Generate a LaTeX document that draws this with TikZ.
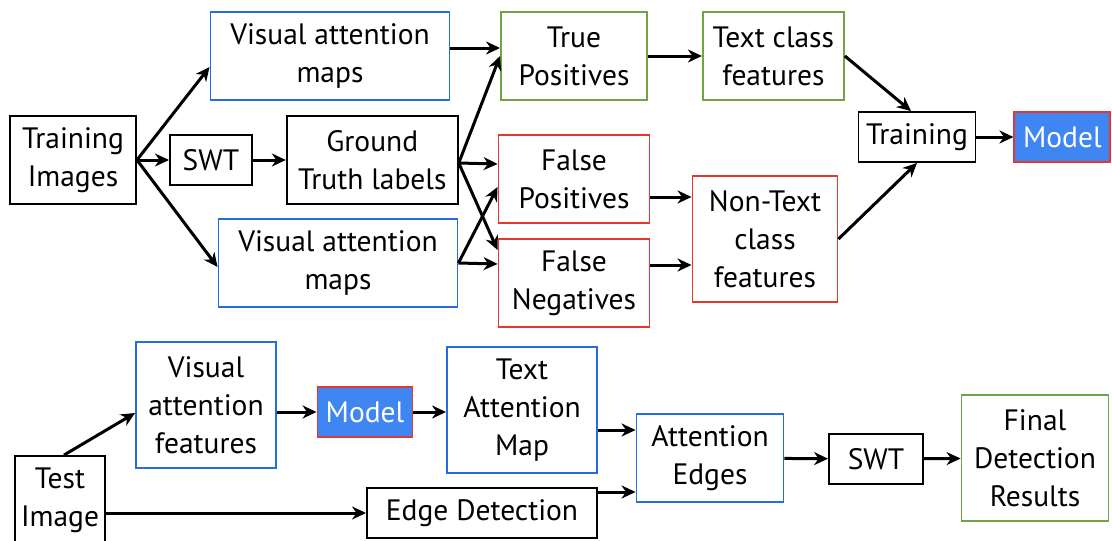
\documentclass[tikz,border=0pt]{standalone}
\usepackage{fontspec}
\setmainfont{PT Sans}
\usetikzlibrary{arrows.meta,positioning}
\definecolor{attnblue}{RGB}{38,110,224}
\definecolor{posgreen}{RGB}{112,165,70}
\definecolor{negred}{RGB}{228,55,45}
\definecolor{modelblue}{RGB}{64,134,242}
\begin{document}
\begin{tikzpicture}[x=1pt, y=-1pt,
  font=\fontsize{29.5}{38}\selectfont,
  box/.style={draw, line width=1.9pt, align=center, inner sep=0pt, minimum height=88pt},
  plainbox/.style={box, draw=black},
  attnbox/.style={box, draw=attnblue},
  posbox/.style={box, draw=posgreen},
  negbox/.style={box, draw=negred},
  modelbox/.style={box, draw=negred, fill=modelblue, text=white, minimum height=50pt},
  link/.style={-{Stealth[length=14pt,width=13pt,inset=4.5pt]}, line width=3pt}
]
\useasboundingbox (0,0) rectangle (1112,541);
% training part
\node[plainbox, minimum width=126pt] (trainimg) at (73,160) {Training\\Images};
\node[plainbox, minimum width=82pt, minimum height=50pt, right=32pt of trainimg] (swtA) {SWT};
\node[plainbox, minimum width=171pt, right=33pt of swtA] (truth) {Ground\\Truth labels};
\node[attnbox, minimum width=239pt] (mapsA) at (330,56) {Visual attention\\maps};
\node[attnbox, minimum width=239pt] (mapsB) at (338,263) {Visual attention\\maps};
\node[posbox, minimum width=146pt] (tp) at (574,56) {True\\Positives};
\node[posbox, minimum width=141pt, right=54pt of tp] (textfeat) {Text class\\features};
\node[negbox, minimum width=151pt] (fp) at (574,179) {False\\Positives};
\node[negbox, minimum width=151pt] (fn) at (574,283) {False\\Negatives};
\node[negbox, minimum width=145pt, minimum height=126pt] (nontext) at (765,239) {Non-Text\\class\\features};
\node[plainbox, minimum width=117pt, minimum height=50pt] (training) at (917,137) {Training};
\node[modelbox, minimum width=96pt, right=37pt of training] (modelA) {Model};
\draw[link] (trainimg.east) -- ([yshift=-11pt]mapsA.west);
\draw[link] (trainimg.east) -- (swtA.west);
\draw[link] (trainimg.east) -- ([yshift=-4pt]mapsB.west);
\draw[link] (swtA) -- (truth);
\draw[link] ([yshift=8pt]mapsA.east) -- ([yshift=8pt]tp.west);
\draw[link] ([yshift=-3pt]truth.east) -- (tp.west);
\draw[link] ([yshift=-3pt]truth.east) -- ([yshift=15pt]fp.west);
\draw[link] ([yshift=-3pt]truth.east) -- ([yshift=33pt]fn.west);
\draw[link] (mapsB.east) -- ([yshift=-8pt]fp.west);
\draw[link] (mapsB.east) -- ([yshift=19pt]fn.west);
\draw[link] (tp) -- (textfeat);
\draw[link] ([yshift=-18pt]fp.east) -- ([yshift=42pt]nontext.west);
\draw[link] ([yshift=18pt]fn.east) -- ([yshift=-26pt]nontext.west);
\draw[link] (textfeat.east) -- ([xshift=-6pt]training.north);
\draw[link] (nontext.east) -- (training.south);
\draw[link] (training) -- (modelA);
% testing part
\node[plainbox, minimum width=90pt] (testimg) at (60,500) {Test\\Image};
\node[attnbox, minimum width=140pt, minimum height=126pt] (attfeat) at (206,405) {Visual\\attention\\features};
\node[modelbox, minimum width=95pt] (modelB) at (365,412) {Model};
\node[attnbox, minimum width=150pt, minimum height=126pt] (textmap) at (522,410) {Text\\Attention\\Map};
\node[plainbox, minimum width=230pt, minimum height=50pt] (edges) at (482,513) {Edge Detection};
\node[attnbox, minimum width=147pt] (attedges) at (710,458) {Attention\\Edges};
\node[plainbox, minimum width=94pt, minimum height=50pt] (swtB) at (876,459) {SWT};
\node[posbox, minimum width=147pt, minimum height=126pt] (final) at (1035,458) {Final\\Detection\\Results};
\draw[link] ([xshift=4pt]testimg.north) -- ([yshift=-8pt]attfeat.west);
\draw[link] ([yshift=-7pt]attfeat.east) -- (modelB.west);
\draw[link] (modelB.east) -- (modelB.east -| textmap.west);
\draw[link] ([yshift=-13pt]testimg.east) -- (edges.west);
\draw[link] ([yshift=-20pt]textmap.east) -- ([yshift=28pt]attedges.west);
\draw[link] ([yshift=21pt]edges.east) -- ([yshift=-34pt]attedges.west);
\draw[link] (attedges) -- (swtB);
\draw[link] (swtB) -- (final);
\end{tikzpicture}
\end{document}
